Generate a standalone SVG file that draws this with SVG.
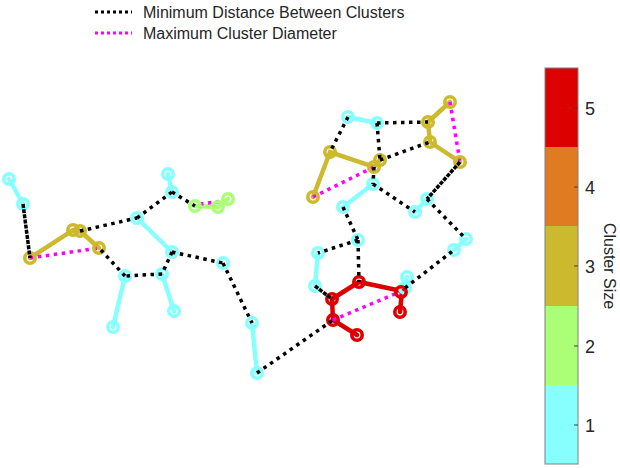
<svg xmlns="http://www.w3.org/2000/svg" width="620" height="468" viewBox="0 0 620 468">
<style>
text{font-family:"Liberation Sans",Arial,sans-serif;fill:#262626}
.e{fill:none;stroke-width:4.5;stroke-linecap:round}
.c{stroke:#88FFFF}.o{stroke:#CDB92D}.g{stroke:#AAFF77}.r{stroke:#DD0000}
.n{fill:none;stroke-width:3.6}
.d{fill:none;stroke:#000;stroke-width:3.5;stroke-dasharray:3.5 4.5}
.ds{fill:none;stroke:#000;stroke-width:3.5;stroke-dasharray:4 1.2}
.m{fill:none;stroke:#FF00FF;stroke-width:3.5;stroke-dasharray:3.5 4.5}
</style>
<rect width="620" height="468" fill="#fff"/>
<g id="legend">
<line x1="95" y1="12" x2="132" y2="12" stroke="#000" stroke-width="3" stroke-dasharray="3 3"/>
<line x1="95" y1="33" x2="132" y2="33" stroke="#FF00FF" stroke-width="3" stroke-dasharray="3 3"/>
<text x="143" y="18" font-size="16">Minimum Distance Between Clusters</text>
<text x="143" y="39" font-size="16">Maximum Cluster Diameter</text>
</g>
<g id="edges">
<path class="e c" d="M9 179L23 204M168 174L172 192M137 218L172 252M162 274L174 311M125 276L113 327M252 323L257 373M348 117L377 123M373 184L343 207M415 212L427 199M466 239L454 250M318 253L315 286M407 277L405 288"/>
<path class="e o" d="M30 258L73 230L80 231L99 248M450 102L428 122L430 142L460 162M313 197L330 152L374 167L380 160"/>
<path class="e g" d="M195 206L218 207L228 199"/>
<path class="e r" d="M332 299L359 282L402 291L400 312M332 299L333 320L357 335"/>
</g>
<g id="diameters">
<path class="m" d="M30 258L99 248M200 204L224 201M450 102L460 162M313 197L374 167M333 320L402 291"/>
</g>
<g id="nodes">
<g id="p1"><circle class="n c" cx="9" cy="179" r="5.2"/></g>
<g id="p2"><circle class="n c" cx="23" cy="204" r="5.2"/></g>
<g id="p3"><circle class="n o" cx="30" cy="258" r="5.2"/></g>
<g id="p4"><circle class="n o" cx="73" cy="230" r="5.2"/></g>
<g id="p5"><circle class="n o" cx="80" cy="231" r="5.2"/></g>
<g id="p6"><circle class="n o" cx="99" cy="248" r="5.2"/></g>
<g id="p7"><circle class="n c" cx="137" cy="218" r="5.2"/></g>
<g id="p8"><circle class="n c" cx="168" cy="174" r="5.2"/></g>
<g id="p9"><circle class="n c" cx="172" cy="192" r="5.2"/></g>
<g id="p10"><circle class="n g" cx="195" cy="206" r="5.2"/></g>
<g id="p11"><circle class="n g" cx="218" cy="207" r="5.2"/></g>
<g id="p12"><circle class="n g" cx="228" cy="199" r="5.2"/></g>
<g id="p13"><circle class="n c" cx="172" cy="252" r="5.2"/></g>
<g id="p14"><circle class="n c" cx="162" cy="274" r="5.2"/></g>
<g id="p15"><circle class="n c" cx="174" cy="311" r="5.2"/></g>
<g id="p16"><circle class="n c" cx="125" cy="276" r="5.2"/></g>
<g id="p17"><circle class="n c" cx="113" cy="327" r="5.2"/></g>
<g id="p18"><circle class="n c" cx="223" cy="263" r="5.2"/></g>
<g id="p19"><circle class="n c" cx="252" cy="323" r="5.2"/></g>
<g id="p20"><circle class="n c" cx="257" cy="373" r="5.2"/></g>
<g id="q1"><circle class="n c" cx="348" cy="117" r="5.2"/></g>
<g id="q2"><circle class="n c" cx="377" cy="123" r="5.2"/></g>
<g id="q3"><circle class="n o" cx="428" cy="122" r="5.2"/></g>
<g id="q4"><circle class="n o" cx="450" cy="102" r="5.2"/></g>
<g id="q5"><circle class="n o" cx="430" cy="142" r="5.2"/></g>
<g id="q6"><circle class="n o" cx="460" cy="162" r="5.2"/></g>
<g id="q7"><circle class="n o" cx="330" cy="152" r="5.2"/></g>
<g id="q8"><circle class="n o" cx="313" cy="197" r="5.2"/></g>
<g id="q9"><circle class="n o" cx="380" cy="160" r="5.2"/></g>
<g id="q10"><circle class="n o" cx="374" cy="167" r="5.2"/></g>
<g id="q11"><circle class="n c" cx="373" cy="184" r="5.2"/></g>
<g id="q12"><circle class="n c" cx="343" cy="207" r="5.2"/></g>
<g id="q13"><circle class="n c" cx="415" cy="212" r="5.2"/></g>
<g id="q14"><circle class="n c" cx="427" cy="199" r="5.2"/></g>
<g id="q15"><circle class="n c" cx="466" cy="239" r="5.2"/></g>
<g id="q16"><circle class="n c" cx="454" cy="250" r="5.2"/></g>
<g id="q17"><circle class="n c" cx="358" cy="240" r="5.2"/></g>
<g id="q18"><circle class="n c" cx="318" cy="253" r="5.2"/></g>
<g id="q19"><circle class="n c" cx="315" cy="286" r="5.2"/></g>
<g id="q26"><circle class="n c" cx="407" cy="277" r="5.2"/></g>
<g id="q27"><circle class="n c" cx="405" cy="288" r="5.2"/></g>
<g id="q20"><circle class="n r" cx="332" cy="299" r="5.2"/></g>
<g id="q21"><circle class="n r" cx="359" cy="282" r="5.2"/></g>
<g id="q22"><circle class="n r" cx="401" cy="292" r="5.2"/></g>
<g id="q23"><circle class="n r" cx="400" cy="312" r="5.2"/></g>
<g id="q24"><circle class="n r" cx="333" cy="320" r="5.2"/></g>
<g id="q25"><circle class="n r" cx="357" cy="335" r="5.2"/></g>
</g>
<g id="connectors">
<path class="ds" d="M23 204L30 258M460 162L427 199M315 286L332 299"/>
<path class="d" d="M80 231L137 218M137 218L172 192M172 192L195 206M172 252L223 263M223 263L252 323M257 373L333 320M172 252L162 274M162 274L125 276M125 276L99 248M348 117L330 152M377 123L428 122M377 123L380 160M380 160L430 142M374 167L373 184M373 184L415 212M427 199L466 239M343 207L358 240M358 240L318 253M358 240L359 282M405 288L454 250"/>
</g>
<g id="colorbar">
<rect x="545" y="68" width="33" height="79" fill="#DD0000"/>
<rect x="545" y="147" width="33" height="79" fill="#E07B22"/>
<rect x="545" y="226" width="33" height="80" fill="#CDB92D"/>
<rect x="545" y="306" width="33" height="79" fill="#AAFF77"/>
<rect x="545" y="385" width="33" height="79" fill="#88FFFF"/>
<rect x="545" y="68" width="33" height="396" fill="none" stroke="#808080" stroke-width="1"/>
<path d="M574 108H578M574 187H578M574 266H578M574 346H578M574 425H578" stroke="#404040" stroke-width="1"/>
<text x="585" y="115" font-size="18">5</text>
<text x="585" y="194" font-size="18">4</text>
<text x="585" y="273" font-size="18">3</text>
<text x="585" y="353" font-size="18">2</text>
<text x="585" y="432" font-size="18">1</text>
<text transform="translate(604 266) rotate(90)" text-anchor="middle" font-size="16">Cluster Size</text>
</g>
</svg>
